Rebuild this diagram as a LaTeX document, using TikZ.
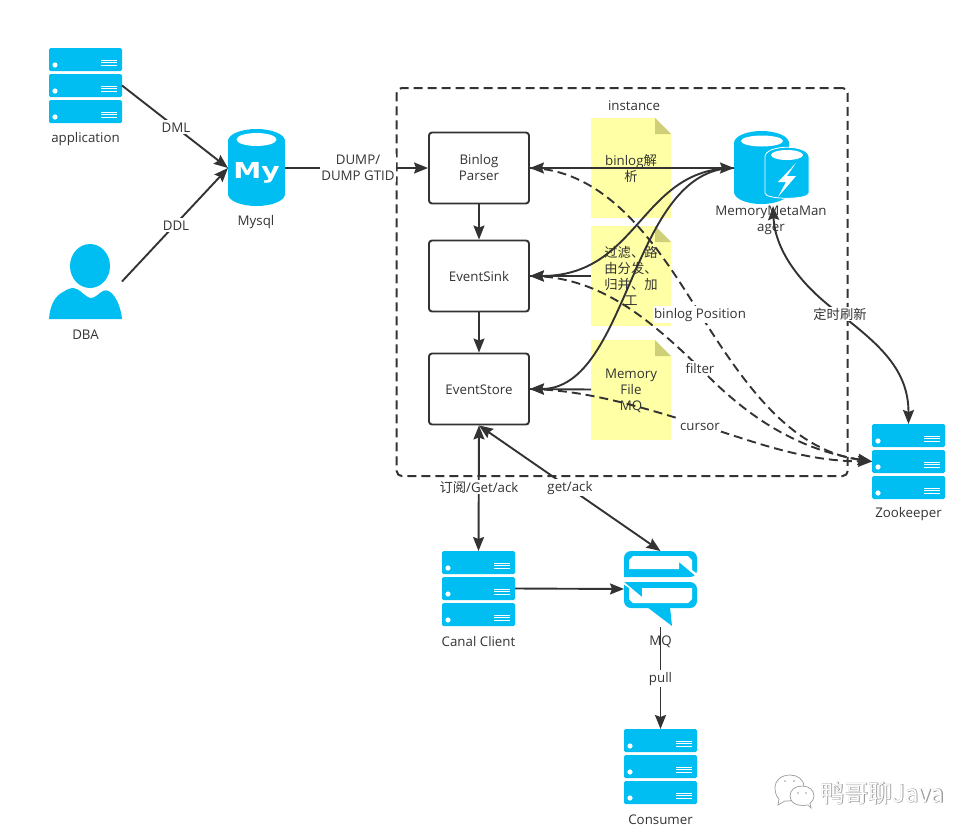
\documentclass[tikz,border=0pt]{standalone}
\usepackage{fontspec}
\usetikzlibrary{arrows.meta}
\setmainfont{Open Sans}
\newfontfamily\cjk{Noto Sans CJK SC}
\newfontfamily\wmfont{Noto Sans CJK SC}
\newfontfamily\wmbold[FakeBold=2.5]{Noto Sans CJK SC}
\newfontfamily\myfont{DejaVu Sans Bold}
\definecolor{iconblue}{HTML}{00BEF2}
\definecolor{ink}{HTML}{333333}
\definecolor{noteyellow}{HTML}{FFFFA6}
\definecolor{notefold}{HTML}{CFCF78}
\definecolor{wmgray}{HTML}{9A9A9A}
\tikzset{
  base/.style={font=\fontsize{13.3}{16}\selectfont, text=ink, align=center, inner sep=0pt, execute at begin node={\rule{0pt}{11.4pt}}},
  iconbox/.style={minimum width=73pt, minimum height=75pt, inner sep=0pt, outer sep=0pt},
  stagebox/.style={draw=ink, line width=1.9pt, rounded corners=3pt, fill=white, minimum width=100pt, minimum height=71pt, base},
  notebox/.style={fill=noteyellow, minimum width=80pt, minimum height=100pt, base, text width=70pt, outer sep=0pt},
  caption/.style={base},
  elabel/.style={base, fill=white, inner sep=1.2pt},
  link/.style={draw=ink, line width=1.9pt, -{Stealth[length=14pt,width=11pt,inset=2pt]}},
  twolink/.style={draw=ink, line width=1.9pt, {Stealth[length=14pt,width=11pt,inset=2pt]}-{Stealth[length=14pt,width=11pt,inset=2pt]}},
  dashlink/.style={link, dash pattern=on 9pt off 5pt},
}
\newcommand{\serverstack}[3]{%
  \begin{scope}[shift={(#2,#3)}]
    \node[iconbox] (#1) at (36.5,37.5) {};
    \foreach \yy in {0,26,52} {
      \fill[iconblue, rounded corners=1.5pt] (0,\yy) rectangle (73,\yy+23);
      \fill[white] (6,\yy+17) circle (2.6pt);
      \foreach \ll in {12,14.5,17}
        \draw[white, line width=0.9pt] (52,\yy+\ll) -- (68,\yy+\ll);
    }
  \end{scope}}
\newcommand{\notefoldmark}[2]{%
  \fill[white] (#1-16,#2) -- (#1,#2) -- (#1,#2+16) -- cycle;
  \fill[notefold] (#1-16,#2) -- (#1,#2+16) -- (#1-16,#2+16) -- cycle;}
\begin{document}
\begin{tikzpicture}[x=1pt,y=-1pt]
\useasboundingbox (0,0) rectangle (978,836);
\fill[white] (0,0) rectangle (978,836);

% instance frame
\node[draw=ink, line width=2pt, dash pattern=on 9pt off 5pt, rounded corners=5pt, minimum width=451pt, minimum height=388pt, inner sep=0pt] (frame) at (622.2,282) {};
\node[caption] (instlabel) at (634,105) {instance};

% notes
\node[notebox] (note1) at (631,168) {binlog{\cjk 解}\\[0pt]{\cjk 析}};
\notefoldmark{671}{118}
\node[notebox] (note2) at (631,276) {\cjk 过滤、路\\由分发、\\归并、加\\工};
\notefoldmark{671}{226}
\node[notebox] (note3) at (631,389.5) {Memory\\File\\MQ};
\notefoldmark{671}{340}

% stages
\node[stagebox] (parser) at (479,168) {Binlog\\Parser};
\node[stagebox] (sink) at (479,276) {EventSink};
\node[stagebox] (store) at (479,389) {EventStore};

% server stacks
\serverstack{app}{49}{48}
\serverstack{zk}{872}{424}
\serverstack{canal}{442}{551}
\serverstack{consumer}{624}{729}

\node[caption] (applabel) at (85.5,138.5) {application};
\node[caption] (zklabel) at (908.5,513) {Zookeeper};
\node[caption] (canallabel) at (478.5,641) {Canal Client};
\node[caption] (consumerlabel) at (660.5,819) {Consumer};

% DBA
\node[iconbox] (dba) at (85.5,281.5) {};
\fill[iconblue] (90,266) ellipse [x radius=20pt, y radius=22pt];
\fill[iconblue] (49,319) .. controls (50,305) and (55,296) .. (63,292)
  .. controls (72,286) and (76,288) .. (80,291)
  .. controls (85,295) and (88,298) .. (91,298)
  .. controls (95,298) and (98,294) .. (103,291)
  .. controls (110,287) and (120,300) .. (122,319) -- cycle;
\node[caption] (dbalabel) at (85.5,334) {DBA};

% Mysql
\node[iconbox, minimum width=57pt, minimum height=78pt] (mysql) at (256.5,168) {};
\fill[iconblue] (228,141) rectangle (285,194);
\fill[iconblue] (256.5,141) ellipse [x radius=28.5pt, y radius=12pt];
\fill[iconblue] (256.5,194) ellipse [x radius=28.5pt, y radius=12pt];
\fill[white] (256.5,139.5) ellipse [x radius=20pt, y radius=6.5pt];
\node[inner sep=0pt, text=white, font=\myfont\fontsize{22}{22}\selectfont, xscale=1.28, anchor=base] (mylogo) at (256.5,178) {My};
\node[caption] (mysqllabel) at (256,221) {Mysql};

% Memory manager
\node[iconbox, minimum width=75pt, minimum height=74pt] (memory) at (771.5,168) {};
\fill[iconblue] (734,143) rectangle (789,192);
\fill[iconblue] (761.5,143) ellipse [x radius=27.5pt, y radius=12pt];
\fill[iconblue] (761.5,192) ellipse [x radius=27.5pt, y radius=12pt];
\fill[white] (762,141) ellipse [x radius=21pt, y radius=5.5pt];
\draw[white, line width=0.8pt, fill=iconblue] (765,157) -- (765,193)
  .. controls (765,200) and (809,200) .. (809,193) -- (809,157)
  .. controls (809,144) and (765,144) .. (765,157) -- cycle;
\fill[white] (787,155) ellipse [x radius=16pt, y radius=5pt];
\fill[white] (796,163) -- (778,182) -- (786,182) -- (778,197) -- (796,176) -- (787,176) -- cycle;
\node[caption] (memlabel) at (771,220.5) {MemoryMetaMan\\ager};

% MQ icon
\node[iconbox, minimum height=76pt] (mq) at (660.5,589) {};
\fill[iconblue, rounded corners=7pt] (624,577) -- (624,551) -- (697,551) -- (697,577) [sharp corners] -- cycle;
\fill[white] (629,569) -- (679,569) -- (679,562) -- (697,577) -- (697.6,577) -- (697.6,574) -- (692,570)
  -- (692,560) -- (688,556) -- (633,556) -- (629,560) -- cycle;
\fill[iconblue, rounded corners=7pt] (624,582) -- (624,608) -- (697,608) -- (697,582) [sharp corners] -- cycle;
\fill[white] (642,588) -- (692,588) -- (692,599) -- (688,603) -- (633,603) -- (629,599) -- (629,588) -- (623.4,584) -- (623.4,582) -- (624,582) -- (642,597) -- cycle;
\fill[iconblue] (647,607) -- (672,626) -- (670,607) -- cycle;
\node[caption] (mqlabel) at (660.5,641) {MQ};

% connectors
\draw[link] (app.east) -- (mysql.west);
\draw[link] (dba.east) -- (mysql.west);
\draw[link] (mysql.east) -- (parser.west);
\draw[link] (parser.south) -- (sink.north);
\draw[link] (sink.south) -- (store.north);
\draw[twolink] (parser.east) -- (memory.west);
\draw[link] (memory.west) .. controls (640,168) and (640,276) .. (sink.east);
\draw[link] (memory.west) .. controls (630,168) and (630,389) .. (store.east);
\draw[link] (note2.west) -- (sink.east);
\draw[link] (note3.west) -- (store.east);

\draw[dashlink] (parser.east) .. controls (610,170) and (660,250) .. (700,314) .. controls (745,385) and (790,450) .. (zk.west);
\draw[dashlink] (sink.east) .. controls (600,276) and (650,320) .. (700,368) .. controls (750,420) and (800,450) .. (zk.west);
\draw[dashlink] (store.east) .. controls (590,390) and (650,410) .. (700,425) .. controls (750,440) and (800,461) .. (zk.west);

\draw[twolink] (773,206) .. controls (775,250) and (800,285) .. (840,314) .. controls (880,345) and (908.5,370) .. (zk.north);

\draw[twolink] (store.south) -- (canal.north);
\draw[twolink] (store.south) -- (mq.north);
\draw[link] (canal.east) -- (mq.west);
\draw[link] (mq.south) -- (consumer.north);

% edge labels
\node[elabel] (dml) at (176,127) {DML};
\node[elabel] (ddl) at (176,225) {DDL};
\node[elabel] (dump) at (358,168) {DUMP/\\DUMP GTID};
\node[elabel] (posl) at (700,314) {binlog Position};
\node[elabel] (filterl) at (700,368) {filter};
\node[elabel] (cursorl) at (700,425) {cursor};
\node[elabel] (timer) at (840,314) {\cjk 定时刷新};
\node[elabel] (sub) at (479,487) {{\cjk 订阅}/Get/ack};
\node[elabel] (getack) at (570,487) {get/ack};
\node[elabel] (pull) at (660.5,678) {pull};

% watermark
\begin{scope}[draw=wmgray, line width=0.7pt, fill=white]
  \filldraw (779,799) -- (778,805) -- (785,801) .. controls (795,802) and (804,795) .. (804,787)
    .. controls (804,779) and (797,775) .. (790,775) .. controls (782,775) and (775,780) .. (775,787)
    .. controls (775,792) and (776,796) .. (779,799) -- cycle;
  \filldraw (808,805) -- (811,808) -- (810,803) .. controls (813,801) and (814,798) .. (814,796)
    .. controls (814,790) and (809,786) .. (802,786) .. controls (795,786) and (790,790) .. (790,796)
    .. controls (790,802) and (796,807) .. (808,805) -- cycle;
  \fill[wmgray] (785,781) circle (0.9pt) (794,781) circle (0.9pt) (798,793) circle (0.9pt) (806,793) circle (0.9pt);
\end{scope}
\node[inner sep=0pt, text=wmgray, font=\wmbold\fontsize{24}{24}\selectfont] (wmshade) at (882.5,793) {鸭哥聊Java};
\node[inner sep=0pt, text=white, font=\wmfont\fontsize{24}{24}\selectfont] (wmtext) at (882.5,793) {鸭哥聊Java};
\end{tikzpicture}
\end{document}
